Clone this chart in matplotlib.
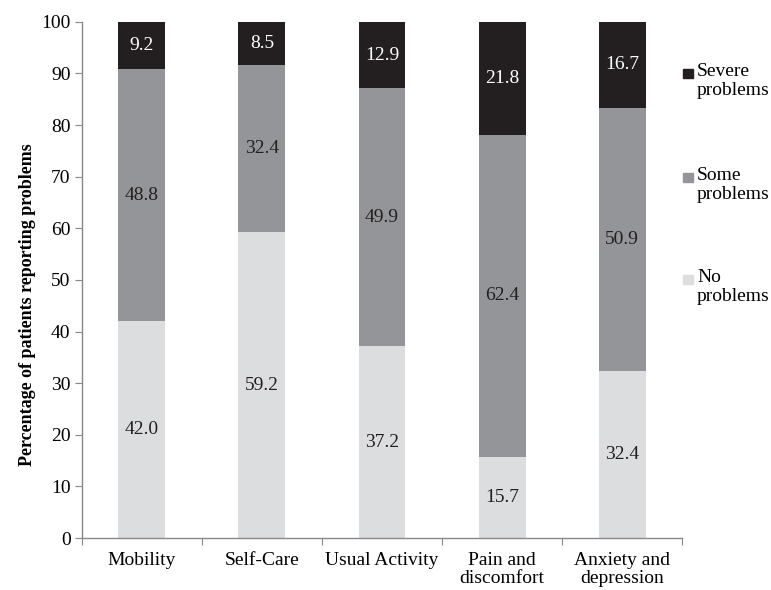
import matplotlib
matplotlib.use("Agg")
import matplotlib.pyplot as plt
from matplotlib.patches import Rectangle

plt.rcParams['font.family'] = ['Liberation Serif', 'DejaVu Serif']

categories = ["Mobility", "Self-Care", "Usual Activity", "Pain and\ndiscomfort", "Anxiety and\ndepression"]
no_problems = [42.0, 59.2, 37.2, 15.7, 32.4]
some_problems = [48.8, 32.4, 49.9, 62.4, 50.9]
severe_problems = [9.2, 8.5, 12.9, 21.8, 16.7]
yticks = [0, 10, 20, 30, 40, 50, 60, 70, 80, 90, 100]

c_no = "#dcdddf"
c_some = "#939598"
c_severe = "#231f20"

fig = plt.figure(figsize=(7.71, 5.90), dpi=100)
ax = fig.add_axes([0.106, 0.088, 0.779, 0.875])

x = list(range(len(categories)))
w = 0.39
ax.bar(x, no_problems, width=w, color=c_no)
ax.bar(x, some_problems, width=w, bottom=no_problems, color=c_some)
bottom3 = [a + b for a, b in zip(no_problems, some_problems)]
ax.bar(x, severe_problems, width=w, bottom=bottom3, color=c_severe)

fs = 14
for i in x:
    ax.text(i, no_problems[i] / 2, f"{no_problems[i]:.1f}", ha="center", va="center", fontsize=fs, color="#231f20")
    ax.text(i, no_problems[i] + some_problems[i] / 2, f"{some_problems[i]:.1f}", ha="center", va="center", fontsize=fs, color="#231f20")
    ax.text(i, bottom3[i] + severe_problems[i] / 2, f"{severe_problems[i]:.1f}", ha="center", va="center", fontsize=fs, color="white")

ax.set_xlim(-0.5, len(categories) - 0.5)
ax.set_ylim(0, 100)
ax.set_yticks(yticks)
ax.set_yticklabels([str(t) for t in yticks], fontsize=fs)
ax.set_xticks([i - 0.5 for i in range(len(categories) + 1)], minor=False)
ax.set_xticklabels([])
ax.set_xticks(x, minor=True)
ax.set_xticklabels(categories, minor=True, fontsize=fs, linespacing=1.05)
ax.tick_params(axis="x", which="minor", length=0, pad=10)
ax.tick_params(axis="x", which="major", length=5, color="#888888", direction="out")
ax.tick_params(axis="y", length=5, color="#888888", direction="out", pad=3)
for s in ["top", "right"]:
    ax.spines[s].set_visible(False)
for s in ["left", "bottom"]:
    ax.spines[s].set_color("#888888")
    ax.spines[s].set_linewidth(1.0)
ax.set_ylabel("Percentage of patients reporting problems", fontsize=13, fontweight="bold")
ax.yaxis.set_label_coords(-0.076, 0.453)

# legend (manual)
leg_items = [("Severe\nproblems", c_severe, 73), ("Some\nproblems", c_some, 177), ("No\nproblems", c_no, 279)]
for label, col, ypx in leg_items:
    fy = 1 - ypx / 590
    fig.patches.append(Rectangle((683 / 771, fy - 4.5 / 590), 10 / 771, 9 / 590, transform=fig.transFigure, color=col, figure=fig))
    fig.text(697 / 771, fy + 10 / 590, label, ha="left", va="top", fontsize=fs, linespacing=1.15)

fig.savefig("out.png", dpi=100)
